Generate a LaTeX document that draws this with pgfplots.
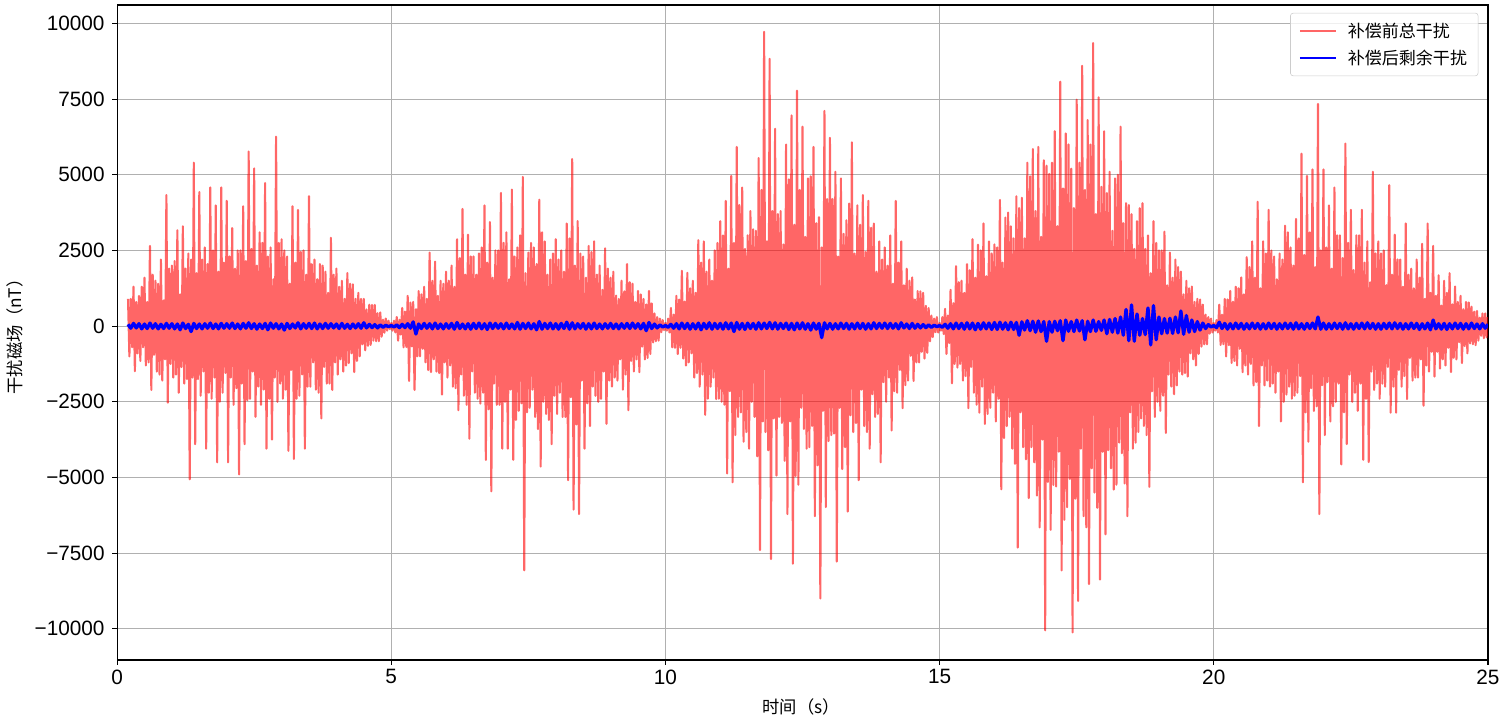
\documentclass[border=0pt]{standalone}
\usepackage{fontspec}
\setmainfont{Liberation Sans}
\newfontfamily\cjk{Noto Sans CJK SC}
\usepackage{pgfplots}
\pgfplotsset{compat=1.18}
\definecolor{mplred}{RGB}{255,0,0}
\definecolor{mplblue}{RGB}{0,0,255}
\definecolor{mplgrid}{RGB}{176,176,176}

\begin{document}
\begin{tikzpicture}
\begin{axis}[
  scale only axis,
  width=990.8pt, height=473.4pt,
  xmin=0, xmax=25, ymin=-11030, ymax=10610,
  xtick={0,5,10,15,20,25},
  xticklabels={0,5,10,15,20,25},
  ytick={-10000,-7500,-5000,-2500,0,2500,5000,7500,10000},
  yticklabels={−10000,−7500,−5000,−2500,0,2500,5000,7500,10000},
  xtick pos=left, ytick pos=left,
  grid=major, grid style={mplgrid, line width=0.8pt},
  tick align=outside, major tick length=3.5pt,
  tick style={black, line width=0.8pt},
  axis line style={line width=0.8pt},
  tick label style={font=\fontsize{15}{17}\selectfont},
  yticklabel style={xshift=-2pt},
  xlabel={\cjk 时间（s）}, ylabel={\cjk 干扰磁场（nT）},
  label style={font=\fontsize{12.5}{14}\selectfont},
  xlabel style={at={(axis description cs:0.499,-0.072)}, anchor=center},
  ylabel style={at={(axis description cs:-0.0744,0.5)}, anchor=center},
  legend style={at={(0.993,0.988)}, anchor=north east, draw=black!20,
    rounded corners=2pt, fill=white, fill opacity=0.8, text opacity=1,
    font=\cjk\fontsize{12.3}{15}\selectfont, row sep=3.5pt,
    inner xsep=6pt, inner ysep=5pt},
  legend cell align=left,
  legend image code/.code={\draw[#1, line width=1.5pt] (0pt,0pt) -- (26pt,0pt);},
  /tikz/every odd column/.append style={column sep=6pt},
]
% total disturbance before compensation
\addplot[mplred, draw opacity=0.6, line width=1.5pt, line join=round] coordinates {
(0.200,900)(0.225,-1000)(0.250,900)(0.275,-700)(0.300,1300)(0.325,-1490)(0.350,800)(0.375,-900)(0.400,1000)(0.425,-1150)(0.450,1300)(0.475,-700)
(0.500,1600)(0.525,-1300)(0.550,800)(0.575,-1200)(0.600,2650)(0.625,-2110)(0.650,1700)(0.675,-950)(0.700,1500)(0.725,-1500)(0.750,1400)(0.775,-1600)
(0.800,2200)(0.825,-1800)(0.850,850)(0.875,-1100)(0.900,4330)(0.925,-2530)(0.950,1900)(0.975,-1250)
(1.000,2000)(1.025,-1700)(1.050,2150)(1.075,-1600)(1.100,3170)(1.125,-2200)(1.150,1050)(1.175,-1350)(1.200,3300)(1.225,-1900)(1.250,1900)(1.275,-1750)
(1.300,2400)(1.325,-5060)(1.350,2200)(1.375,-1700)(1.400,5400)(1.425,-3900)(1.450,1750)(1.475,-1750)(1.500,4430)(1.525,-2300)(1.550,2200)(1.575,-1500)
(1.600,2600)(1.625,-4050)(1.650,2050)(1.675,-2200)(1.700,4580)(1.725,-2400)(1.750,2500)(1.775,-1700)(1.800,3990)(1.825,-4500)(1.850,1800)(1.875,-2500)
(1.900,4580)(1.925,-2200)(1.950,2100)(1.975,-1550)
(2.000,4140)(2.025,-4500)(2.050,2300)(2.075,-1700)(2.100,3240)(2.125,-2600)(2.150,1900)(2.175,-2050)(2.200,2500)(2.225,-4900)(2.250,2500)(2.275,-1900)
(2.300,3960)(2.325,-3900)(2.350,2150)(2.375,-2450)(2.400,5770)(2.425,-2400)(2.450,2550)(2.475,-1500)(2.500,5210)(2.525,-3000)(2.550,2000)(2.575,-2000)
(2.600,3100)(2.625,-2600)(2.650,2750)(2.675,-2100)(2.700,4730)(2.725,-4050)(2.750,2300)(2.775,-2400)(2.800,2600)(2.825,-3750)(2.850,1550)(2.875,-1700)
(2.900,6260)(2.925,-2500)(2.950,2750)(2.975,-1900)
(3.000,2870)(3.025,-2400)(3.050,2500)(3.075,-2100)(3.100,2300)(3.125,-4120)(3.150,1400)(3.175,-1450)(3.200,3960)(3.225,-4390)(3.250,2100)(3.275,-2400)
(3.300,3840)(3.325,-2300)(3.350,2450)(3.375,-1600)(3.400,2500)(3.425,-4050)(3.450,1700)(3.475,-2000)(3.500,4290)(3.525,-2000)(3.550,2050)(3.575,-1200)
(3.600,2200)(3.625,-2100)(3.650,1550)(3.675,-2200)(3.700,2050)(3.725,-3050)(3.750,2000)(3.775,-1350)(3.800,1800)(3.825,-1900)(3.850,1100)(3.875,-1900)
(3.900,2920)(3.925,-2110)(3.950,1700)(3.975,-1200)
(4.000,1900)(4.025,-1600)(4.050,1300)(4.075,-1100)(4.100,1500)(4.125,-1500)(4.150,900)(4.175,-1300)(4.200,1750)(4.225,-1220)(4.250,1400)(4.275,-900)
(4.300,1380)(4.325,-1520)(4.350,900)(4.375,-1150)(4.400,1100)(4.425,-1000)(4.450,900)(4.475,-600)(4.500,900)(4.525,-800)(4.550,550)(4.575,-650)
(4.600,710)(4.625,-620)(4.650,700)(4.675,-480)(4.700,700)(4.725,-500)(4.750,430)(4.775,-500)(4.800,450)(4.825,-350)(4.850,210)(4.875,-220)
(4.900,250)(4.925,-150)(4.950,180)(4.975,-100)
(5.000,100)(5.025,-150)(5.050,180)(5.075,-210)(5.100,300)(5.125,-480)(5.150,210)(5.175,-280)(5.200,600)(5.225,-700)(5.250,480)(5.275,-690)
(5.300,1000)(5.325,-1810)(5.350,780)(5.375,-670)(5.400,800)(5.425,-2110)(5.450,560)(5.475,-1000)(5.500,1160)(5.525,-1000)(5.550,1050)(5.575,-750)
(5.600,1300)(5.625,-1200)(5.650,900)(5.675,-1450)(5.700,2430)(5.725,-1520)(5.750,1500)(5.775,-1100)(5.800,2130)(5.825,-1500)(5.850,1000)(5.875,-1550)
(5.900,1500)(5.925,-2260)(5.950,1400)(5.975,-1200)
(6.000,1800)(6.025,-1700)(6.050,1500)(6.075,-1300)(6.100,2000)(6.125,-2000)(6.150,1300)(6.175,-2050)(6.200,2870)(6.225,-2780)(6.250,2250)(6.275,-1600)
(6.300,3870)(6.325,-2300)(6.350,1700)(6.375,-2600)(6.400,3020)(6.425,-3720)(6.450,2300)(6.475,-1500)(6.500,2300)(6.525,-2200)(6.550,1700)(6.575,-2400)
(6.600,2400)(6.625,-2560)(6.650,2600)(6.675,-2200)(6.700,3990)(6.725,-4420)(6.750,2100)(6.775,-2750)(6.800,3440)(6.825,-5460)(6.850,1600)(6.875,-1900)
(6.900,2500)(6.925,-2600)(6.950,2500)(6.975,-2600)
(7.000,4400)(7.025,-4050)(7.050,2750)(7.075,-2500)(7.100,3100)(7.125,-4050)(7.150,1550)(7.175,-2100)(7.200,4510)(7.225,-4420)(7.250,2300)(7.275,-3100)
(7.300,2600)(7.325,-2800)(7.350,3000)(7.375,-2550)(7.400,4930)(7.425,-8070)(7.450,1750)(7.475,-2850)(7.500,2430)(7.525,-2700)(7.550,2750)(7.575,-2100)
(7.600,2600)(7.625,-3000)(7.650,2050)(7.675,-3400)(7.700,4180)(7.725,-4640)(7.750,3100)(7.775,-2500)(7.800,2800)(7.825,-2900)(7.850,1700)(7.875,-3100)
(7.900,2200)(7.925,-3900)(7.950,2400)(7.975,-2300)
(8.000,2870)(8.025,-2900)(8.050,2200)(8.075,-2200)(8.100,2500)(8.125,-3000)(8.150,1800)(8.175,-3000)(8.200,3390)(8.225,-5090)(8.250,2900)(8.275,-2350)
(8.300,5520)(8.325,-6060)(8.350,2000)(8.375,-3250)(8.400,3470)(8.425,-6210)(8.450,2400)(8.475,-1800)(8.500,2300)(8.525,-4050)(8.550,1600)(8.575,-2550)
(8.600,2650)(8.625,-3300)(8.650,2450)(8.675,-2000)(8.700,2800)(8.725,-2300)(8.750,1700)(8.775,-2500)(8.800,2000)(8.825,-2400)(8.850,1200)(8.875,-1500)
(8.900,2570)(8.925,-3230)(8.950,1900)(8.975,-1800)
(9.000,1600)(9.025,-2000)(9.050,1800)(9.075,-1700)(9.100,1010)(9.125,-1800)(9.150,900)(9.175,-1100)(9.200,1500)(9.225,-2100)(9.250,1150)(9.275,-1600)
(9.300,2050)(9.325,-2780)(9.350,1450)(9.375,-1150)(9.400,1400)(9.425,-1500)(9.450,800)(9.475,-1100)(9.500,1160)(9.525,-1520)(9.550,1050)(9.575,-680)
(9.600,900)(9.625,-1100)(9.650,720)(9.675,-1050)(9.700,1160)(9.725,-920)(9.750,750)(9.775,-540)(9.800,420)(9.825,-500)(9.850,300)(9.875,-480)
(9.900,250)(9.925,-200)(9.950,200)(9.975,-130)
(10.000,100)(10.025,-150)(10.050,250)(10.075,-210)(10.100,600)(10.125,-700)(10.150,380)(10.175,-720)(10.200,1000)(10.225,-920)(10.250,880)(10.275,-720)
(10.300,1830)(10.325,-1070)(10.350,810)(10.375,-1300)(10.400,1760)(10.425,-1200)(10.450,1250)(10.475,-900)(10.500,1500)(10.525,-1700)(10.550,1100)(10.575,-1550)
(10.600,2840)(10.625,-2000)(10.650,2100)(10.675,-1600)(10.700,2800)(10.725,-2930)(10.750,1800)(10.775,-2400)(10.800,2200)(10.825,-2000)(10.850,1500)(10.875,-1700)
(10.900,2500)(10.925,-2410)(10.950,2750)(10.975,-2400)
(11.000,3470)(11.025,-2500)(11.050,3000)(11.075,-2600)(11.100,4140)(11.125,-4870)(11.150,1900)(11.175,-2150)(11.200,4960)(11.225,-5160)(11.250,2750)(11.275,-3600)
(11.300,5920)(11.325,-3000)(11.350,4000)(11.375,-2850)(11.400,4580)(11.425,-3820)(11.450,2550)(11.475,-3500)(11.500,3000)(11.525,-4050)(11.550,3800)(11.575,-2500)
(11.600,3200)(11.625,-3000)(11.650,3150)(11.675,-4300)(11.700,5550)(11.725,-7400)(11.750,4500)(11.775,-3150)(11.800,9720)(11.825,-3500)(11.850,2800)(11.875,-4100)
(11.900,8830)(11.925,-7700)(11.950,3800)(11.975,-3050)
(12.000,6520)(12.025,-4940)(12.050,3700)(12.075,-3000)(12.100,3800)(12.125,-3200)(12.150,2700)(12.175,-4450)(12.200,6000)(12.225,-6210)(12.250,4850)(12.275,-3150)
(12.300,6960)(12.325,-7850)(12.350,3350)(12.375,-4950)(12.400,7780)(12.425,-5240)(12.450,4500)(12.475,-2700)(12.500,6590)(12.525,-3400)(12.550,2950)(12.575,-4050)
(12.600,4880)(12.625,-4000)(12.650,4950)(12.675,-3300)(12.700,5920)(12.725,-6280)(12.750,3400)(12.775,-4600)(12.800,3600)(12.825,-9000)(12.850,2600)(12.875,-2800)
(12.900,7110)(12.925,-5980)(12.950,4200)(12.975,-3800)
(13.000,6220)(13.025,-3600)(13.050,4200)(13.075,-3550)(13.100,5100)(13.125,-7780)(13.150,2300)(13.175,-2700)(13.200,4880)(13.225,-4720)(13.250,3050)(13.275,-4000)
(13.300,3500)(13.325,-6130)(13.350,4050)(13.375,-2950)(13.400,6070)(13.425,-3500)(13.450,2400)(13.475,-3200)(13.500,3990)(13.525,-5090)(13.550,3350)(13.575,-2100)
(13.600,4330)(13.625,-3300)(13.650,2450)(13.675,-3500)(13.700,4140)(13.725,-4050)(13.750,3250)(13.775,-2250)(13.800,3390)(13.825,-3000)(13.850,1800)(13.875,-2900)
(13.900,2800)(13.925,-4500)(13.950,2200)(13.975,-1850)
(14.000,2600)(14.025,-2500)(14.050,2000)(14.075,-1700)(14.100,3000)(14.125,-3450)(14.150,1400)(14.175,-2150)(14.200,4140)(14.225,-2200)(14.250,2100)(14.275,-1450)
(14.300,2800)(14.325,-2710)(14.350,1350)(14.375,-1950)(14.400,1900)(14.425,-1800)(14.450,1500)(14.475,-980)(14.500,1610)(14.525,-1810)(14.550,880)(14.575,-1200)
(14.600,1160)(14.625,-1200)(14.650,1150)(14.675,-850)(14.700,1100)(14.725,-1070)(14.750,670)(14.775,-880)(14.800,600)(14.825,-500)(14.850,350)(14.875,-360)
(14.900,250)(14.925,-200)(14.950,300)(14.975,-210)
(15.000,100)(15.025,-150)(15.050,300)(15.075,-260)(15.100,570)(15.125,-920)(15.150,350)(15.175,-560)(15.200,1200)(15.225,-1890)(15.250,760)(15.275,-1250)
(15.300,1980)(15.325,-1370)(15.350,1450)(15.375,-1250)(15.400,1500)(15.425,-1800)(15.450,1100)(15.475,-1650)(15.500,2050)(15.525,-2710)(15.550,1850)(15.575,-1350)
(15.600,2870)(15.625,-2200)(15.650,1600)(15.675,-2600)(15.700,2690)(15.725,-2860)(15.750,2500)(15.775,-2000)(15.800,3390)(15.825,-3230)(15.850,1650)(15.875,-2900)
(15.900,2800)(15.925,-2700)(15.950,2400)(15.975,-2200)
(16.000,2700)(16.025,-3150)(16.050,2600)(16.075,-2400)(16.100,4170)(16.125,-5390)(16.150,2100)(16.175,-3700)(16.200,3590)(16.225,-3300)(16.250,3750)(16.275,-3000)
(16.300,3300)(16.325,-4050)(16.350,2900)(16.375,-4550)(16.400,4290)(16.425,-7320)(16.450,3900)(16.475,-2850)(16.500,4240)(16.525,-4000)(16.550,2900)(16.575,-4400)
(16.600,5400)(16.625,-5680)(16.650,4950)(16.675,-4000)(16.700,5850)(16.725,-4500)(16.750,3800)(16.775,-5600)(16.800,5920)(16.825,-6650)(16.850,2950)(16.875,-3750)
(16.900,5480)(16.925,-10050)(16.950,5300)(16.975,-5150)
(17.000,5030)(17.025,-6730)(17.050,5400)(17.075,-5250)(17.100,6440)(17.125,-5300)(17.150,3300)(17.175,-4150)(17.200,8080)(17.225,-8070)(17.250,4550)(17.275,-6400)
(17.300,6370)(17.325,-5980)(17.350,6000)(17.375,-5050)(17.400,5200)(17.425,-10120)(17.450,3900)(17.475,-5700)(17.500,7480)(17.525,-9080)(17.550,5400)(17.575,-4050)
(17.600,8600)(17.625,-6280)(17.650,4500)(17.675,-6650)(17.700,6810)(17.725,-8520)(17.750,6000)(17.775,-4700)(17.800,9350)(17.825,-5500)(17.850,3700)(17.875,-6000)
(17.900,7560)(17.925,-8370)(17.950,4600)(17.975,-4150)
(18.000,6440)(18.025,-6880)(18.050,4400)(18.075,-4100)(18.100,5100)(18.125,-4700)(18.150,3150)(18.175,-5400)(18.200,4880)(18.225,-5240)(18.250,5000)(18.275,-3850)
(18.300,6590)(18.325,-4200)(18.350,3400)(18.375,-5200)(18.400,4060)(18.425,-6280)(18.450,4000)(18.475,-2850)(18.500,3700)(18.525,-4050)(18.550,2550)(18.575,-3850)
(18.600,3470)(18.625,-3500)(18.650,3900)(18.675,-3050)(18.700,4060)(18.725,-3300)(18.750,2550)(18.775,-3600)(18.800,3000)(18.825,-5310)(18.850,1750)(18.875,-2150)
(18.900,3470)(18.925,-3000)(18.950,2750)(18.975,-2500)
(19.000,2500)(19.025,-2800)(19.050,2500)(19.075,-2300)(19.100,3120)(19.125,-3530)(19.150,1350)(19.175,-1600)(19.200,2430)(19.225,-2000)(19.250,1600)(19.275,-2250)
(19.300,2200)(19.325,-1960)(19.350,1950)(19.375,-1500)(19.400,1800)(19.425,-1600)(19.450,1050)(19.475,-1550)(19.500,1500)(19.525,-1670)(19.550,1250)(19.575,-900)
(19.600,1310)(19.625,-1100)(19.650,800)(19.675,-1300)(19.700,900)(19.725,-920)(19.750,880)(19.775,-680)(19.800,710)(19.825,-600)(19.850,380)(19.875,-600)
(19.900,300)(19.925,-250)(19.950,250)(19.975,-210)
(20.000,100)(20.025,-150)(20.050,200)(20.075,-210)(20.100,710)(20.125,-620)(20.150,380)(20.175,-600)(20.200,900)(20.225,-1000)(20.250,880)(20.275,-630)
(20.300,1160)(20.325,-1220)(20.350,810)(20.375,-1150)(20.400,1300)(20.425,-1300)(20.450,1250)(20.475,-750)(20.500,1610)(20.525,-1520)(20.550,1050)(20.575,-1300)
(20.600,2280)(20.625,-1600)(20.650,1950)(20.675,-1250)(20.700,2800)(20.725,-1960)(20.750,1600)(20.775,-1850)(20.800,4110)(20.825,-3300)(20.850,1250)(20.875,-1300)
(20.900,2800)(20.925,-1960)(20.950,2400)(20.975,-1800)
(21.000,3840)(21.025,-2000)(21.050,2500)(21.075,-1900)(21.100,2300)(21.125,-2200)(21.150,1550)(21.175,-1500)(21.200,2400)(21.225,-3150)(21.250,2200)(21.275,-2500)
(21.300,3320)(21.325,-2260)(21.350,3100)(21.375,-2000)(21.400,2600)(21.425,-2400)(21.450,2000)(21.475,-2300)(21.500,3540)(21.525,-2200)(21.550,2900)(21.575,-1650)
(21.600,5700)(21.625,-5160)(21.650,2350)(21.675,-2850)(21.700,4960)(21.725,-3820)(21.750,3100)(21.775,-2050)(21.800,5180)(21.825,-2800)(21.850,1950)(21.875,-2650)
(21.900,7340)(21.925,-6210)(21.950,2500)(21.975,-1950)
(22.000,5180)(22.025,-3600)(22.050,2600)(22.075,-1850)(22.100,3990)(22.125,-3150)(22.150,1900)(22.175,-2650)(22.200,4580)(22.225,-2500)(22.250,3000)(22.275,-1900)
(22.300,3000)(22.325,-4570)(22.350,2250)(22.375,-2850)(22.400,6030)(22.425,-3900)(22.450,2750)(22.475,-1600)(22.500,3840)(22.525,-2500)(22.550,1850)(22.575,-2200)
(22.600,3000)(22.625,-2800)(22.650,3000)(22.675,-1900)(22.700,3840)(22.725,-4420)(22.750,2100)(22.775,-2400)(22.800,2800)(22.825,-4490)(22.850,1450)(22.875,-1500)
(22.900,5100)(22.925,-2110)(22.950,2400)(22.975,-1900)
(23.000,2800)(23.025,-2400)(23.050,2400)(23.075,-1900)(23.100,2500)(23.125,-2000)(23.150,1350)(23.175,-1350)(23.200,4660)(23.225,-2860)(23.250,1700)(23.275,-2000)
(23.300,3020)(23.325,-2860)(23.350,2200)(23.375,-1450)(23.400,2200)(23.425,-2000)(23.450,1300)(23.475,-1650)(23.500,3390)(23.525,-2410)(23.550,1700)(23.575,-1050)
(23.600,1900)(23.625,-1800)(23.650,1250)(23.675,-1700)(23.700,2200)(23.725,-1700)(23.750,1600)(23.775,-1100)(23.800,2720)(23.825,-2630)(23.850,900)(23.875,-1300)
(23.900,3390)(23.925,-1500)(23.950,1100)(23.975,-850)
(24.000,2650)(24.025,-1670)(24.050,1000)(24.075,-850)(24.100,1680)(24.125,-1400)(24.150,680)(24.175,-1100)(24.200,1500)(24.225,-1300)(24.250,1100)(24.275,-720)
(24.300,1750)(24.325,-1520)(24.350,720)(24.375,-1050)(24.400,1310)(24.425,-1100)(24.450,800)(24.475,-530)(24.500,1000)(24.525,-1220)(24.550,560)(24.575,-660)
(24.600,800)(24.625,-900)(24.650,780)(24.675,-570)(24.700,640)(24.725,-600)(24.750,480)(24.775,-630)(24.800,500)(24.825,-480)(24.850,280)(24.875,-320)
(24.900,420)(24.925,-400)(24.950,420)(24.975,-370)(25.000,300)
};
\addlegendentry{补偿前总干扰}
% residual after compensation
\addplot[mplblue, line width=2.4pt, line join=round] coordinates {
(0.20,60)(0.25,-70)(0.30,90)(0.35,-60)(0.40,80)(0.45,-90)(0.50,70)(0.55,-80)(0.60,100)(0.65,-70)(0.70,80)(0.75,-90)(0.80,60)(0.85,-80)(0.90,90)(0.95,-70)
(1.00,80)(1.05,-90)(1.10,70)(1.15,-120)(1.20,100)(1.25,-80)(1.30,60)(1.35,-180)(1.40,90)(1.45,-80)(1.50,70)(1.55,-90)(1.60,80)(1.65,-70)(1.70,100)(1.75,-80)(1.80,70)(1.85,-90)(1.90,90)(1.95,-70)
(2.00,80)(2.05,-70)(2.10,100)(2.15,-80)(2.20,70)(2.25,-90)(2.30,90)(2.35,-70)(2.40,110)(2.45,-80)(2.50,80)(2.55,-100)(2.60,70)(2.65,-80)(2.70,90)(2.75,-120)(2.80,100)(2.85,-70)(2.90,80)(2.95,-90)
(3.00,70)(3.05,-130)(3.10,90)(3.15,-80)(3.20,70)(3.25,-60)(3.30,110)(3.35,-90)(3.40,80)(3.45,-70)(3.50,90)(3.55,-80)(3.60,100)(3.65,-90)(3.70,70)(3.75,-80)(3.80,90)(3.85,-70)(3.90,80)(3.95,-60)
(4.00,70)(4.05,-80)(4.10,90)(4.15,-70)(4.20,60)(4.25,-80)(4.30,70)(4.35,-60)(4.40,80)(4.45,-70)(4.50,110)(4.55,-60)(4.60,60)(4.65,-50)(4.70,50)(4.75,-60)(4.80,40)(4.85,-40)(4.90,30)(4.95,-20)
(5.00,20)(5.05,-30)(5.10,40)(5.15,-50)(5.20,60)(5.25,-50)(5.30,80)(5.35,-70)(5.40,140)(5.45,-260)(5.50,70)(5.55,-80)(5.60,90)(5.65,-70)(5.70,80)(5.75,-90)(5.80,100)(5.85,-80)(5.90,70)(5.95,-90)
(6.00,80)(6.05,-70)(6.10,90)(6.15,-100)(6.20,120)(6.25,-80)(6.30,70)(6.35,-90)(6.40,80)(6.45,-100)(6.50,90)(6.55,-80)(6.60,100)(6.65,-90)(6.70,80)(6.75,-110)(6.80,100)(6.85,-80)(6.90,90)(6.95,-70)
(7.00,80)(7.05,-90)(7.10,100)(7.15,-80)(7.20,70)(7.25,-90)(7.30,120)(7.35,-100)(7.40,90)(7.45,-80)(7.50,100)(7.55,-90)(7.60,80)(7.65,-120)(7.70,150)(7.75,-100)(7.80,90)(7.85,-80)(7.90,100)(7.95,-90)
(8.00,80)(8.05,-100)(8.10,90)(8.15,-80)(8.20,130)(8.25,-100)(8.30,110)(8.35,-90)(8.40,80)(8.45,-70)(8.50,90)(8.55,-100)(8.60,80)(8.65,-90)(8.70,100)(8.75,-80)(8.80,70)(8.85,-90)(8.90,80)(8.95,-70)
(9.00,90)(9.05,-80)(9.10,70)(9.15,-90)(9.20,80)(9.25,-70)(9.30,90)(9.35,-80)(9.40,100)(9.45,-70)(9.50,80)(9.55,-90)(9.60,90)(9.65,-150)(9.70,120)(9.75,-80)(9.80,70)(9.85,-60)(9.90,40)(9.95,-30)
(10.00,20)(10.05,-40)(10.10,60)(10.15,-70)(10.20,80)(10.25,-90)(10.30,100)(10.35,-80)(10.40,90)(10.45,-100)(10.50,80)(10.55,-90)(10.60,100)(10.65,-120)(10.70,90)(10.75,-80)(10.80,110)(10.85,-100)(10.90,90)(10.95,-80)
(11.00,90)(11.05,-100)(11.10,110)(11.15,-90)(11.20,100)(11.25,-180)(11.30,120)(11.35,-100)(11.40,90)(11.45,-110)(11.50,100)(11.55,-80)(11.60,90)(11.65,-100)(11.70,110)(11.75,-90)(11.80,100)(11.85,-80)(11.90,120)(11.95,-90)
(12.00,110)(12.05,-100)(12.10,90)(12.15,-80)(12.20,100)(12.25,-110)(12.30,90)(12.35,-120)(12.40,100)(12.45,-90)(12.50,110)(12.55,-100)(12.60,80)(12.65,-130)(12.70,100)(12.75,-100)(12.80,90)(12.85,-380)(12.90,110)(12.95,-90)
(13.00,90)(13.05,-100)(13.10,80)(13.15,-90)(13.20,100)(13.25,-80)(13.30,90)(13.35,-100)(13.40,80)(13.45,-90)(13.50,100)(13.55,-80)(13.60,90)(13.65,-100)(13.70,80)(13.75,-90)(13.80,110)(13.85,-80)(13.90,90)(13.95,-70)
(14.00,100)(14.05,-80)(14.10,90)(14.15,-70)(14.20,80)(14.25,-90)(14.30,110)(14.35,-60)(14.40,70)(14.45,-80)(14.50,90)(14.55,-70)(14.60,60)(14.65,-60)(14.70,50)(14.75,-50)(14.80,40)(14.85,-40)(14.90,30)(14.95,-20)
(15.00,20)(15.05,-40)(15.10,60)(15.15,-70)(15.20,80)(15.25,-90)(15.30,100)(15.35,-80)(15.40,90)(15.45,-100)(15.50,110)(15.55,-90)(15.60,100)(15.65,-120)(15.70,90)(15.75,-100)(15.80,110)(15.85,-90)(15.90,100)(15.95,-110)
(16.00,120)(16.05,-110)(16.10,130)(16.15,-100)(16.20,110)(16.25,-120)(16.30,130)(16.35,-110)(16.40,120)(16.45,-300)(16.50,140)(16.55,-130)(16.60,180)(16.65,-150)(16.70,160)(16.75,-200)(16.80,170)(16.85,-180)(16.90,150)(16.95,-500)
(17.00,150)(17.05,-200)(17.10,160)(17.15,-150)(17.20,180)(17.25,-480)(17.30,200)(17.35,-170)(17.40,150)(17.45,-180)(17.50,200)(17.55,-160)(17.60,180)(17.65,-450)(17.70,160)(17.75,-180)(17.80,200)(17.85,-170)(17.90,150)(17.95,-140)
(18.00,200)(18.05,-250)(18.10,220)(18.15,-200)(18.20,250)(18.25,-230)(18.30,300)(18.35,-300)(18.40,550)(18.45,-480)(18.50,700)(18.55,-500)(18.60,400)(18.65,-300)(18.70,250)(18.75,-280)(18.80,600)(18.85,-620)(18.90,680)(18.95,-450)
(19.00,300)(19.05,-250)(19.10,250)(19.15,-230)(19.20,260)(19.25,-240)(19.30,300)(19.35,-220)(19.40,500)(19.45,-270)(19.50,350)(19.55,-200)(19.60,200)(19.65,-180)(19.70,150)(19.75,-130)(19.80,100)(19.85,-80)(19.90,50)(19.95,-30)
(20.00,20)(20.05,-50)(20.10,130)(20.15,-80)(20.20,90)(20.25,-100)(20.30,80)(20.35,-90)(20.40,100)(20.45,-80)(20.50,90)(20.55,-100)(20.60,80)(20.65,-90)(20.70,100)(20.75,-80)(20.80,90)(20.85,-100)(20.90,80)(20.95,-90)
(21.00,100)(21.05,-80)(21.10,90)(21.15,-100)(21.20,80)(21.25,-90)(21.30,100)(21.35,-80)(21.40,90)(21.45,-100)(21.50,110)(21.55,-90)(21.60,80)(21.65,-100)(21.70,90)(21.75,-80)(21.80,100)(21.85,-90)(21.90,300)(21.95,-100)
(22.00,100)(22.05,-100)(22.10,80)(22.15,-90)(22.20,100)(22.25,-80)(22.30,90)(22.35,-100)(22.40,110)(22.45,-90)(22.50,80)(22.55,-100)(22.60,90)(22.65,-80)(22.70,100)(22.75,-90)(22.80,110)(22.85,-80)(22.90,90)(22.95,-100)
(23.00,80)(23.05,-100)(23.10,90)(23.15,-80)(23.20,100)(23.25,-90)(23.30,110)(23.35,-80)(23.40,90)(23.45,-100)(23.50,80)(23.55,-90)(23.60,100)(23.65,-80)(23.70,90)(23.75,-110)(23.80,80)(23.85,-90)(23.90,100)(23.95,-120)
(24.00,200)(24.05,-90)(24.10,80)(24.15,-100)(24.20,90)(24.25,-110)(24.30,80)(24.35,-90)(24.40,100)(24.45,-80)(24.50,90)(24.55,-100)(24.60,80)(24.65,-90)(24.70,100)(24.75,-80)(24.80,70)(24.85,-90)(24.90,80)(24.95,-70)
(25.00,60)
};
\addlegendentry{补偿后剩余干扰}
\end{axis}
\pgfresetboundingbox
\path[use as bounding box] ([xshift=-84.6pt,yshift=-43.4pt]current axis.south west) rectangle ([xshift=8.7pt,yshift=3.6pt]current axis.north east);
\end{tikzpicture}
\end{document}
